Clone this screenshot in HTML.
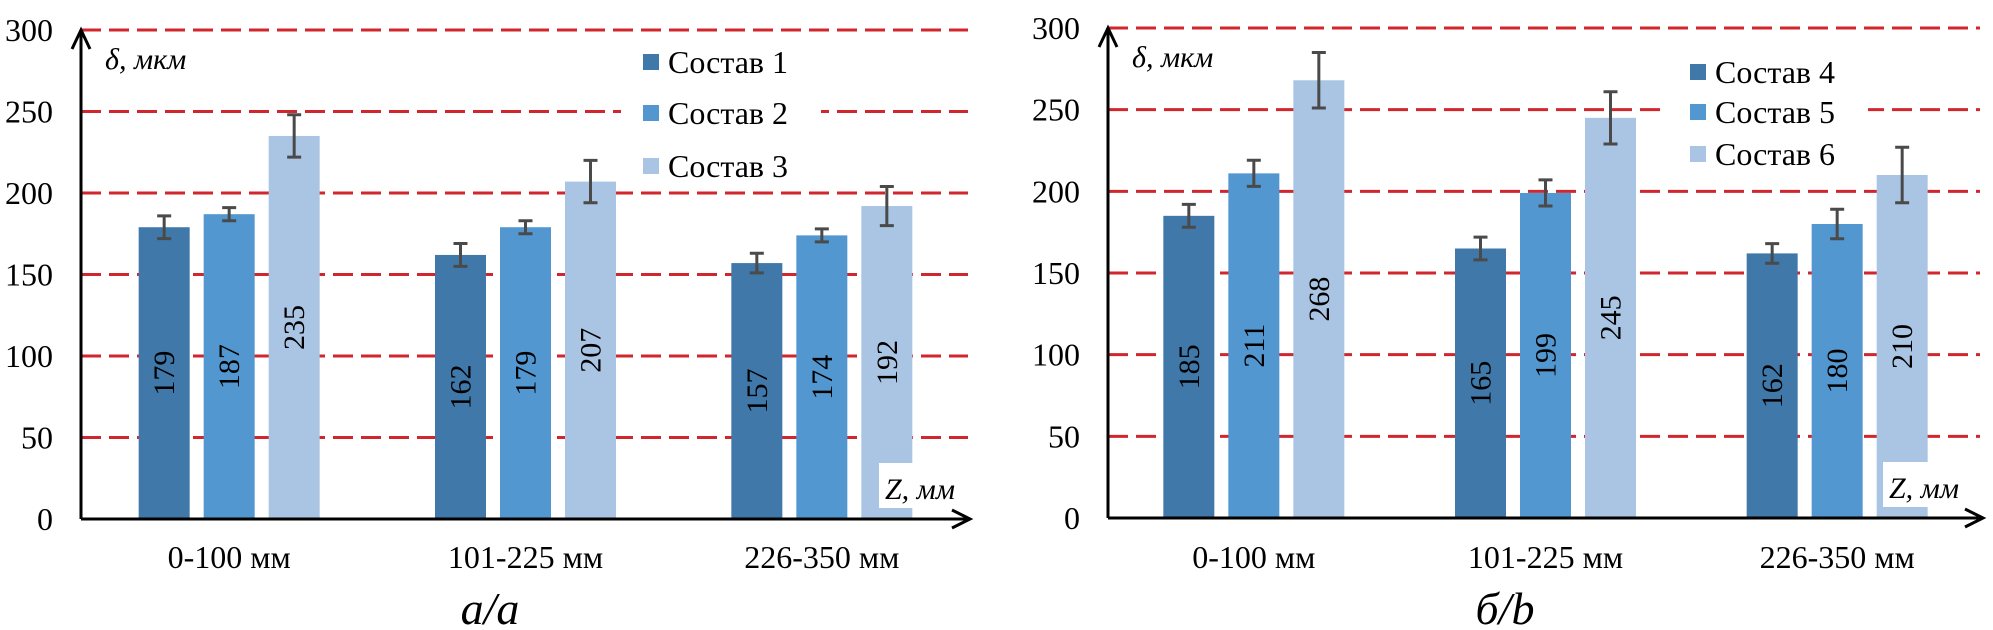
<!DOCTYPE html>
<html><head><meta charset="utf-8">
<style>
html,body{margin:0;padding:0;background:#fff;}
svg{display:block;}
svg text{font-family:"Liberation Serif","DejaVu Serif",serif !important;}
</style></head>
<body>
<svg id="chart" width="1993" height="630" viewBox="0 0 1993 630" xmlns="http://www.w3.org/2000/svg" font-family="Liberation Serif, serif"></svg>
<script>
const categories = ["0-100  мм", "101-225  мм", "226-350  мм"];
const yTicks = [0, 50, 100, 150, 200, 250, 300];
const seriesA = ["Состав 1", "Состав 2", "Состав 3"];
const seriesB = ["Состав 4", "Состав 5", "Состав 6"];
const valuesA1 = [179, 162, 157];
const valuesA2 = [187, 179, 174];
const valuesA3 = [235, 207, 192];
const errA1 = [7, 7, 6];
const errA2 = [4, 4, 4];
const errA3 = [13, 13, 12];
const valuesB1 = [185, 165, 162];
const valuesB2 = [211, 199, 180];
const valuesB3 = [268, 245, 210];
const errB1 = [7, 7, 6];
const errB2 = [8, 8, 9];
const errB3 = [17, 16, 17];

const NS = "http://www.w3.org/2000/svg";
const svg = document.getElementById('chart');
const colors = ["#3f78a9", "#5297d0", "#a9c5e3"];
const FF = "Liberation Serif, DejaVu Serif, serif";
function mk(tag, attrs, parent){
  const e = document.createElementNS(NS, tag);
  for (const k in attrs) e.setAttribute(k, attrs[k]);
  if (tag === 'text') e.setAttribute('font-family', FF);
  (parent||svg).appendChild(e); return e;
}
function drawPanel(p){
  const g = mk('g', {});
  
  
  const y = v => p.y0 - v * (p.y0 - p.y300) / 300;
  const band = (p.xEnd - p.x0) / categories.length;
  const cx = i => p.x0 + band * (i + 0.5);
  yTicks.forEach(t => {
    if (t > 0) {
      const l = mk('line', {x1:p.x0, x2:p.gridEnd, y1:y(t), y2:y(t), stroke:"#d0262e", "stroke-width":3, "stroke-dasharray":"20 8"}, g);
      
      
    }
    const tx = mk('text', {x:p.labelRight, y:y(t)+11, "text-anchor":"end", "font-size":32, fill:"#000"}, g);
    tx.textContent = t;
    
    
  });
  const lb = mk('rect', {x:p.legX-22, y:p.legY[0]-24, width:200, height:p.legY[2]-p.legY[0]+44, fill:"#fff"}, g);
  
  
  const bw = 51, step = 65;
  p.vals.forEach((vals, s) => {
    vals.forEach((v, i) => {
      const bx = cx(i) + (s - 1) * step - bw / 2;
      const r = mk('rect', {x:bx, y:y(v), width:bw, height:p.y0 - y(v), fill:colors[s]}, g);
      
      
    });
  });
  const zb = mk('rect', {x:p.zx, y:p.y0-56, width:88, height:45, fill:"#fff"}, g);
  
  
  const zt = mk('text', {x:p.zx+6, y:p.y0-20, "font-size":30, "font-style":"italic", fill:"#000"}, g);
  zt.textContent = "Z, мм";
  
  
  p.vals.forEach((vals, s) => {
    vals.forEach((v, i) => {
      const x = cx(i) + (s - 1) * step;
      const e = p.errs[s][i];
      const eg = mk('path', {d:`M${x},${y(v+e)}V${y(v-e)}M${x-7},${y(v+e)}H${x+7}M${x-7},${y(v-e)}H${x+7}`, stroke:"#4a4a4a", "stroke-width":3, fill:"none"}, g);
      
      
      const my = (p.y0 + y(v)) / 2;
      const t = mk('text', {x:x+10, y:my, "font-size":30, "text-anchor":"middle", fill:"#000", transform:`rotate(-90 ${x+10} ${my})`}, g);
      t.textContent = v;
      
      
    });
  });
  const ax = mk('path', {d:`M${p.x0},${p.y0}V${p.y300}M${p.x0-9},${p.y300+19}L${p.x0},${p.y300}L${p.x0+9},${p.y300+19}`, stroke:"#000", "stroke-width":3, fill:"none"}, g);
  
  
  const xa = mk('path', {d:`M${p.x0},${p.y0}H${p.xEnd}M${p.xEnd-18},${p.y0-9}L${p.xEnd},${p.y0}L${p.xEnd-18},${p.y0+9}`, stroke:"#000", "stroke-width":3, fill:"none"}, g);
  
  
  const yt = mk('text', {x:p.x0+24, y:p.y300+39, "font-size":30, "font-style":"italic", fill:"#000"}, g);
  yt.textContent = "δ, мкм";
  
  
  categories.forEach((c, i) => {
    const t = mk('text', {x:cx(i), y:568, "font-size":32, "text-anchor":"middle", fill:"#000", "xml:space":"preserve"}, g);
    t.textContent = c;
    
    
  });
  p.series.forEach((s, k) => {
    const sq = mk('rect', {x:p.legX, y:p.legY[k]-8, width:16, height:16, fill:colors[k]}, g);
    
    
    const t = mk('text', {x:p.legX+25, y:p.legY[k]+11, "font-size":32, fill:"#000"}, g);
    t.textContent = s;
    
    
  });
  const cap = mk('text', {x:p.capX, y:624, "font-size":46, "font-style":"italic", "text-anchor":"middle", fill:"#000"}, g);
  cap.textContent = p.caption;
  
  
}
drawPanel({name:"panel-a", x0:81, xEnd:970, gridEnd:968, y0:519, y300:30, labelRight:53,
  vals:[valuesA1, valuesA2, valuesA3], errs:[errA1, errA2, errA3], series:seriesA,
  legX:643, legY:[62, 113, 166], zx:879, capX:490, caption:"a/a"});
drawPanel({name:"panel-b", x0:1108, xEnd:1983, gridEnd:1980, y0:518, y300:28, labelRight:1080,
  vals:[valuesB1, valuesB2, valuesB3], errs:[errB1, errB2, errB3], series:seriesB,
  legX:1690, legY:[72, 112, 154], zx:1883, capX:1505, caption:"б/b"});
</script>
</body></html>
